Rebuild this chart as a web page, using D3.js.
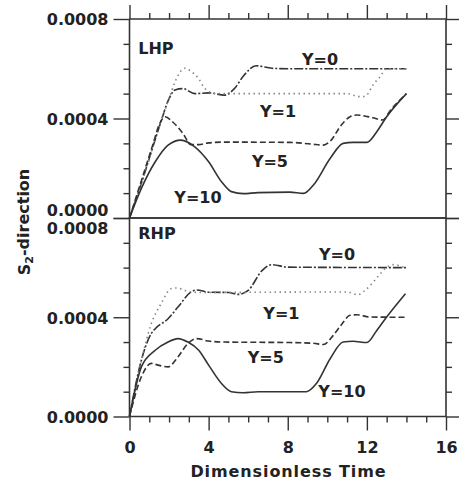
<!DOCTYPE html>
<html>
<head>
<meta charset="utf-8">
<script src="https://cdn.jsdelivr.net/npm/d3@7"></script>
<style>
body { margin: 0; background: #fff; }
text { font-family: "DejaVu Sans", sans-serif; font-weight: bold; fill: #222; }
</style>
</head>
<body>
<script>
var width = 459, height = 483;

// curve values are [time, S2 in units of 1e-4]
var lhpY0 = [[0,0],[0.6,1.4],[1.2,2.9],[1.6,3.9],[2.0,4.8],[2.3,5.15],[2.7,5.2],[3.3,5.0],[4.0,5.03],[4.8,4.94],[5.3,5.2],[5.8,5.75],[6.4,6.12],[7.2,6.02],[8.0,6.0],[14,6.0]];
var lhpY1 = [[0,0],[0.6,1.4],[1.2,2.9],[1.6,3.9],[2.0,4.8],[2.3,5.47],[2.8,6.02],[3.1,5.9],[3.5,5.6],[3.75,5.27],[4.1,5.05],[4.6,5.0],[11.0,5.0],[11.4,4.92],[11.75,4.87],[12.0,4.95],[12.3,5.34],[12.66,5.67],[13.0,6.0],[14,6.0]];
var lhpY5 = [[0,0],[0.6,1.5],[1.2,3.0],[1.5,3.75],[1.8,4.07],[2.2,3.85],[2.7,3.4],[3.1,2.95],[3.5,2.95],[4.0,3.02],[4.8,3.05],[8.1,3.04],[9.2,2.97],[9.8,2.93],[10.15,3.09],[10.7,3.73],[11.15,4.07],[11.5,4.14],[12.3,4.03],[12.8,3.94],[13.2,4.34],[14,5.0]];
var lhpY10 = [[0,0],[0.6,1.19],[1.3,2.26],[1.95,2.93],[2.6,3.13],[3.3,2.86],[4.0,2.26],[4.65,1.46],[5.15,1.06],[5.75,0.98],[6.5,1.02],[8.1,1.04],[8.8,0.99],[9.3,1.33],[10.15,2.4],[10.8,3.0],[11.3,3.04],[12.0,3.04],[12.5,3.47],[13.0,4.07],[14,5.0]];

var rhpY0 = [[0,0],[0.6,2.27],[1.1,3.34],[1.3,3.54],[1.95,3.94],[2.45,4.41],[3.1,5.01],[3.4,5.1],[4.0,5.01],[5.0,5.0],[5.5,4.92],[6.0,5.08],[6.7,5.88],[7.2,6.12],[8.0,6.02],[14,6.0]];
var rhpY1 = [[0,0],[0.5,1.9],[1.1,3.74],[1.6,4.55],[2.1,5.15],[2.4,5.18],[2.8,5.08],[3.5,5.0],[11.0,5.02],[11.55,4.91],[11.9,5.08],[12.25,5.35],[12.6,5.68],[12.95,5.98],[13.35,6.12],[13.9,6.0]];
var rhpY5 = [[0,0],[0.6,1.6],[1.1,2.14],[1.45,2.07],[1.95,2.0],[2.45,2.4],[2.95,2.94],[3.4,3.14],[4.0,3.04],[4.8,3.0],[8.1,2.98],[9.3,2.95],[9.8,2.9],[10.3,3.27],[10.75,3.74],[11.15,4.08],[11.5,4.1],[12.15,4.01],[14,4.0]];
var rhpY10 = [[0,0],[0.6,2.0],[1.3,2.67],[1.95,3.0],[2.45,3.14],[2.95,3.0],[3.5,2.67],[4.0,2.07],[4.65,1.33],[5.15,1.0],[5.75,0.96],[6.5,1.0],[8.95,1.0],[9.45,1.33],[10.15,2.34],[10.8,3.0],[11.3,3.03],[12.0,2.98],[12.5,3.47],[13.0,4.01],[13.95,4.95]];

var seriesNames = ["Y=0", "Y=1", "Y=5", "Y=10"];
var panelNames = ["LHP", "RHP"];
var xMajor = [0, 4, 8, 12, 16];
var yMajor = [0, 4, 8];

// label anchors in data units [time, value]
var lhpLabelPos = [[9.63,6.14],[7.51,4.07],[7.1,2.06],[3.46,0.59]];
var rhpLabelPos = [[10.49,6.29],[7.68,3.94],[6.89,2.14],[10.74,0.80]];

var styles = [
  {stroke: "#333", dash: "9,2,2,2", w: 1.6},
  {stroke: "#888", dash: "1.5,3.5", w: 1.6},
  {stroke: "#333", dash: "6,3", w: 1.6},
  {stroke: "#333", dash: null, w: 1.6}
];

var svg = d3.select("body").append("svg")
    .attr("width", width)
    .attr("height", height);

var x = d3.scaleLinear().domain([0, 16]).range([129.5, 446]);
var yTop = d3.scaleLinear().domain([0, 8]).range([218, 19]);
var yBot = d3.scaleLinear().domain([0, 8]).range([416.5, 218]);

var minorX = d3.range(0, 17).filter(function(d) { return d % 4 != 0; });
var minorY = d3.range(0, 9).filter(function(d) { return d % 4 != 0; });

function styleAxis(g) {
    g.selectAll("path, line").attr("stroke", "#333").attr("stroke-width", 1.4);
    g.select(".domain").remove();
}

var panels = [
    {y: yTop, data: [lhpY0, lhpY1, lhpY5, lhpY10], labels: lhpLabelPos, name: panelNames[0]},
    {y: yBot, data: [rhpY0, rhpY1, rhpY5, rhpY10], labels: rhpLabelPos, name: panelNames[1]}
];

var line = d3.line().curve(d3.curveMonotoneX);

panels.forEach(function(p, pi) {
    var y = p.y;
    var g = svg.append("g");

    // left axis
    g.append("g").attr("transform", "translate(129.5,0)")
        .call(d3.axisLeft(y).tickValues(minorY).tickSize(6).tickFormat(""))
        .call(styleAxis);
    var la = g.append("g").attr("transform", "translate(129.5,0)")
        .call(d3.axisLeft(y).tickValues(yMajor).tickSize(16).tickPadding(5)
            .tickFormat(function(d) { return (d * 1e-4).toFixed(4); }))
        .call(styleAxis);
    la.selectAll("text")
        .style("font-size", "16px")
        .attr("fill", "#222")
        .attr("dy", function(d) {
            if (pi == 0 && d == 0) return "-0.18em";
            if (pi == 1 && d == 8) return "0.95em";
            return "0.36em";
        });

    // right axis
    g.append("g").attr("transform", "translate(446,0)")
        .call(d3.axisRight(y).tickValues(minorY).tickSize(6).tickFormat(""))
        .call(styleAxis);
    g.append("g").attr("transform", "translate(446,0)")
        .call(d3.axisRight(y).tickValues(yMajor).tickSize(14).tickFormat(""))
        .call(styleAxis);

    // frame lines
    g.append("line")
        .attr("x1", 129.5).attr("x2", 446)
        .attr("y1", y(8)).attr("y2", y(8))
        .attr("stroke", "#333").attr("stroke-width", 1.6);
    g.append("line")
        .attr("x1", 129.5).attr("x2", 446)
        .attr("y1", y(0)).attr("y2", y(0))
        .attr("stroke", "#333").attr("stroke-width", 1.6);
    g.append("line")
        .attr("x1", 129.5).attr("x2", 129.5)
        .attr("y1", y(8)).attr("y2", y(0))
        .attr("stroke", "#333").attr("stroke-width", 1.6);
    g.append("line")
        .attr("x1", 446).attr("x2", 446)
        .attr("y1", y(8)).attr("y2", y(0))
        .attr("stroke", "#333").attr("stroke-width", 1.6);

    // curves
    p.data.forEach(function(d, i) {
        g.append("path")
            .attr("d", line(d.map(function(q) { return [x(q[0]), y(q[1])]; })))
            .attr("fill", "none")
            .attr("stroke", styles[i].stroke)
            .attr("stroke-width", styles[i].w)
            .attr("stroke-dasharray", styles[i].dash);
    });

    // series labels
    p.labels.forEach(function(q, i) {
        g.append("text")
            .attr("x", x(q[0]))
            .attr("y", y(q[1]))
            .attr("text-anchor", "middle")
            .style("font-size", "16px")
            .text(seriesNames[i]);
    });

    g.append("text")
        .attr("x", x(0.44))
        .attr("y", pi == 0 ? y(6.61) : y(7.15))
        .style("font-size", "16px")
        .text(p.name);
});

// top axis ticks
svg.append("g").attr("transform", "translate(0,19)")
    .call(d3.axisTop(x).tickValues(minorX).tickSize(6).tickFormat(""))
    .call(styleAxis);
svg.append("g").attr("transform", "translate(0,19)")
    .call(d3.axisTop(x).tickValues(xMajor).tickSize(14).tickFormat(""))
    .call(styleAxis);

// bottom axis
svg.append("g").attr("transform", "translate(0,416.5)")
    .call(d3.axisBottom(x).tickValues(minorX).tickSize(6).tickFormat(""))
    .call(styleAxis);
var ba = svg.append("g").attr("transform", "translate(0,416.5)")
    .call(d3.axisBottom(x).tickValues(xMajor).tickSize(14).tickPadding(11))
    .call(styleAxis);
ba.selectAll("text").style("font-size", "16px").attr("fill", "#222");

// axis titles
svg.append("text")
    .attr("x", 288.5)
    .attr("y", 476.5)
    .attr("text-anchor", "middle")
    .style("font-size", "16px")
    .style("letter-spacing", "0.9px")
    .text("Dimensionless Time");

var yt = svg.append("text")
    .attr("transform", "translate(30,222) rotate(-90)")
    .attr("text-anchor", "middle")
    .style("font-size", "16px");
yt.append("tspan").text("S");
yt.append("tspan").attr("dy", "0.3em").style("font-size", "11px").text("2");
yt.append("tspan").attr("dy", "-0.3em").text("-direction");
</script>
</body>
</html>
